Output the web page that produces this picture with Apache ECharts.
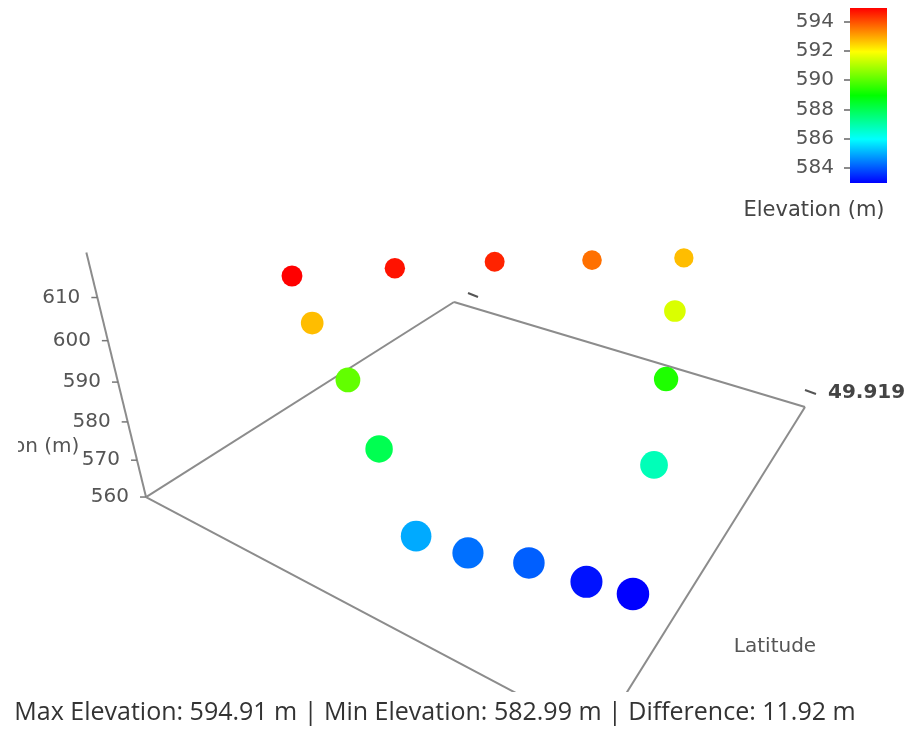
<!DOCTYPE html>
<html><head><meta charset="utf-8">
<script src="https://cdn.jsdelivr.net/npm/echarts@6/dist/echarts.min.js"></script>
<style>html,body{margin:0;padding:0;background:#fff;}#c{width:909px;height:730px;}</style>
</head><body><div id="c"></div>
<script>
// ---- data ----
const longitude = [14.398501,14.398678,14.398861,14.399055,14.399242,14.399337,14.399431,14.399520,14.399611,14.399538,14.399444,14.399349,14.399258,14.399076,14.398887,14.398685];
const latitude  = [49.918607,49.918716,49.918824,49.918925,49.919026,49.918853,49.918690,49.918532,49.918360,49.918349,49.918336,49.918314,49.918302,49.918380,49.918460,49.918529];
const elevation = [594.91,594.7,594.5,593.6,592.7,591.5,589.3,586.8,582.99,583.2,584.1,584.3,584.98,588.0,590.1,592.7];
const zTicks = [560,570,580,590,600,610];
const latTicks = [49.919];
const cbTicks = [584,586,588,590,592,594];

const LON_MIN = 14.3985, LON_MAX = 14.3996;
const LAT_MIN = 49.9183, LAT_MAX = 49.9190;
const Z_MIN = 560, Z_MAX = 620;
const C_MIN = 582.99, C_MAX = 594.91;

// ---- camera: projective matrix fitted to the scene box anchors [X,Y,Z(normalised), px, py] ----
const anchors = [
 [0,0,0,146,497],[0,1,0,454,302],[1,1,0,805,407],[1,0,0,599,737],
 [0,0,10/60,137,460],[0,0,20/60,127.7,422],[0,0,30/60,118.2,383],[0,0,40/60,107.7,340],[0,0,50/60,97.2,297],[0,0,1,86.5,253]
];
function solve(A,b){const n=b.length;for(let i=0;i<n;i++){let m=i;for(let k=i+1;k<n;k++)if(Math.abs(A[k][i])>Math.abs(A[m][i]))m=k;[A[i],A[m]]=[A[m],A[i]];[b[i],b[m]]=[b[m],b[i]];for(let k=i+1;k<n;k++){const f=A[k][i]/A[i][i];for(let j=i;j<n;j++)A[k][j]-=f*A[i][j];b[k]-=f*b[i];}}const x=new Array(n).fill(0);for(let i=n-1;i>=0;i--){let s=b[i];for(let j=i+1;j<n;j++)s-=A[i][j]*x[j];x[i]=s/A[i][i];}return x;}
const rows=[],rhs=[];
anchors.forEach(([X,Y,Z,u,v])=>{rows.push([X,Y,Z,1,0,0,0,0,-u*X,-u*Y,-u*Z]);rhs.push(u);rows.push([0,0,0,0,X,Y,Z,1,-v*X,-v*Y,-v*Z]);rhs.push(v);});
const N=[],r=[];for(let i=0;i<11;i++){N.push(new Array(11).fill(0));r.push(0);}
rows.forEach((row,k)=>{for(let i=0;i<11;i++){r[i]+=row[i]*rhs[k];for(let j=0;j<11;j++)N[i][j]+=row[i]*row[j];}});
const P=solve(N,r);
function proj(X,Y,Z){const w=P[8]*X+P[9]*Y+P[10]*Z+1;return [(P[0]*X+P[1]*Y+P[2]*Z+P[3])/w,(P[4]*X+P[5]*Y+P[6]*Z+P[7])/w,w];}
const nx=lo=>(lo-LON_MIN)/(LON_MAX-LON_MIN), ny=la=>(la-LAT_MIN)/(LAT_MAX-LAT_MIN), nz=z=>(z-Z_MIN)/(Z_MAX-Z_MIN);

const corners=[[LON_MIN,LAT_MIN],[LON_MIN,LAT_MAX],[LON_MAX,LAT_MAX],[LON_MAX,LAT_MIN]];
const boxEdges=[];
for(let i=0;i<4;i++){const a=corners[i],b=corners[(i+1)%4];boxEdges.push([a[0],a[1],Z_MIN,b[0],b[1],Z_MIN]);}
boxEdges.push([LON_MIN,LAT_MIN,Z_MIN,LON_MIN,LAT_MIN,Z_MAX]);

const pointData=longitude.map((lo,i)=>[lo,latitude[i],elevation[i]]);
const COLORS=['#0000ff','#00ffff','#00ff00','#ffff00','#ff0000'];
const FONT='"DejaVu Sans"';
const chart=echarts.init(document.getElementById('c'),null,{renderer:'canvas'});
chart.setOption({
 animation:false,
 grid:[{left:0,top:0,width:909,height:692,show:false},{left:850,top:8,width:37,height:175,show:false}],
 xAxis:[{type:'value',min:0,max:909,show:false,gridIndex:0},{type:'value',min:0,max:1,show:false,gridIndex:1}],
 yAxis:[{type:'value',min:0,max:692,inverse:true,show:false,gridIndex:0},
  {type:'value',min:C_MIN,max:C_MAX,gridIndex:1,position:'left',axisLine:{show:false},splitLine:{show:false},
   axisTick:{show:true,length:6,lineStyle:{color:'#666',width:1.5},customValues:cbTicks},
   axisLabel:{margin:16,fontFamily:'DejaVu Sans',fontSize:20,color:'#555',customValues:cbTicks}}],
 visualMap:{type:'continuous',show:false,min:C_MIN,max:C_MAX,dimension:2,seriesIndex:3,inRange:{color:COLORS}},
 series:[
  {type:'custom',xAxisIndex:0,yAxisIndex:0,clip:true,data:boxEdges,silent:true,
   renderItem:(p,api)=>{const a=proj(nx(api.value(0)),ny(api.value(1)),nz(api.value(2)));const b=proj(nx(api.value(3)),ny(api.value(4)),nz(api.value(5)));const ca=api.coord([a[0],a[1]]),cb=api.coord([b[0],b[1]]);
    return {type:'line',shape:{x1:ca[0],y1:ca[1],x2:cb[0],y2:cb[1]},style:{stroke:'#8c8c8c',lineWidth:2}};}},
  {type:'custom',xAxisIndex:0,yAxisIndex:0,clip:true,data:zTicks,silent:true,
   renderItem:(p,api)=>{const z=api.value(0);const a=proj(0,0,nz(z));const c=api.coord([a[0],a[1]]);
    return {type:'group',children:[{type:'line',shape:{x1:c[0]-6,y1:c[1],x2:c[0],y2:c[1]},style:{stroke:'#777',lineWidth:1.5}},
     {type:'text',x:c[0]-17,y:c[1],style:{text:String(z),fill:'#555',font:'20px '+FONT,align:'right',verticalAlign:'middle'}}]};}},
  {type:'custom',xAxisIndex:0,yAxisIndex:0,clip:true,data:latTicks,silent:true,
   renderItem:(p,api)=>{const la=api.value(0);const a=proj(1,ny(la),0);const c=api.coord([a[0],a[1]]);const b=proj(0,ny(la),0);const cb=api.coord([b[0],b[1]]);
    return {type:'group',children:[{type:'line',shape:{x1:c[0],y1:c[1]-17,x2:c[0]+11,y2:c[1]-13},style:{stroke:'#555',lineWidth:2}},
     {type:'line',shape:{x1:cb[0]+14,y1:cb[1]-9,x2:cb[0]+24,y2:cb[1]-5},style:{stroke:'#555',lineWidth:2}},
     {type:'text',x:c[0]+23,y:c[1]-14,style:{text:la.toFixed(3),fill:'#444',font:'bold 20px '+FONT,align:'left',verticalAlign:'middle'}}]};}},
  {type:'custom',xAxisIndex:0,yAxisIndex:0,clip:true,data:pointData,
   renderItem:(p,api)=>{const a=proj(nx(api.value(0)),ny(api.value(1)),nz(api.value(2)));const c=api.coord([a[0],a[1]]);
    return {type:'circle',shape:{cx:c[0],cy:c[1],r:11.8/a[2]},style:{fill:api.visual('color')},z2:Math.round(1000/a[2])};}},
  {type:'custom',xAxisIndex:1,yAxisIndex:1,data:[[0,C_MIN,C_MAX]],silent:true,
   renderItem:(p,api)=>{const t=api.coord([0,api.value(2)]),b=api.coord([1,api.value(1)]);
    return {type:'rect',shape:{x:t[0],y:t[1],width:b[0]-t[0],height:b[1]-t[1]},style:{fill:new echarts.graphic.LinearGradient(0,0,0,1,COLORS.slice().reverse().map((c,i)=>({offset:i/(COLORS.length-1),color:c})))}};}}
 ],
 graphic:[
  {type:'text',x:814,y:211,style:{text:'Elevation (m)',fill:'#444',font:'21px '+FONT,align:'center',verticalAlign:'middle'}},
  {type:'text',x:-55,y:447,style:{text:'Elevation (m)',fill:'#555',font:'20px '+FONT,verticalAlign:'middle'},z:10},
  {type:'rect',shape:{x:0,y:425,width:18,height:45},style:{fill:'#fff'},z:11},
  {type:'text',x:775,y:647,style:{text:'Latitude',fill:'#555',font:'20px '+FONT,align:'center',verticalAlign:'middle'}},
  {type:'text',x:435,y:713,style:{text:'Max Elevation: 594.91 m | Min Elevation: 582.99 m | Difference: 11.92 m',fill:'#333',font:'25px "Open Sans"',align:'center',verticalAlign:'middle'}}
 ]
});
</script></body></html>
